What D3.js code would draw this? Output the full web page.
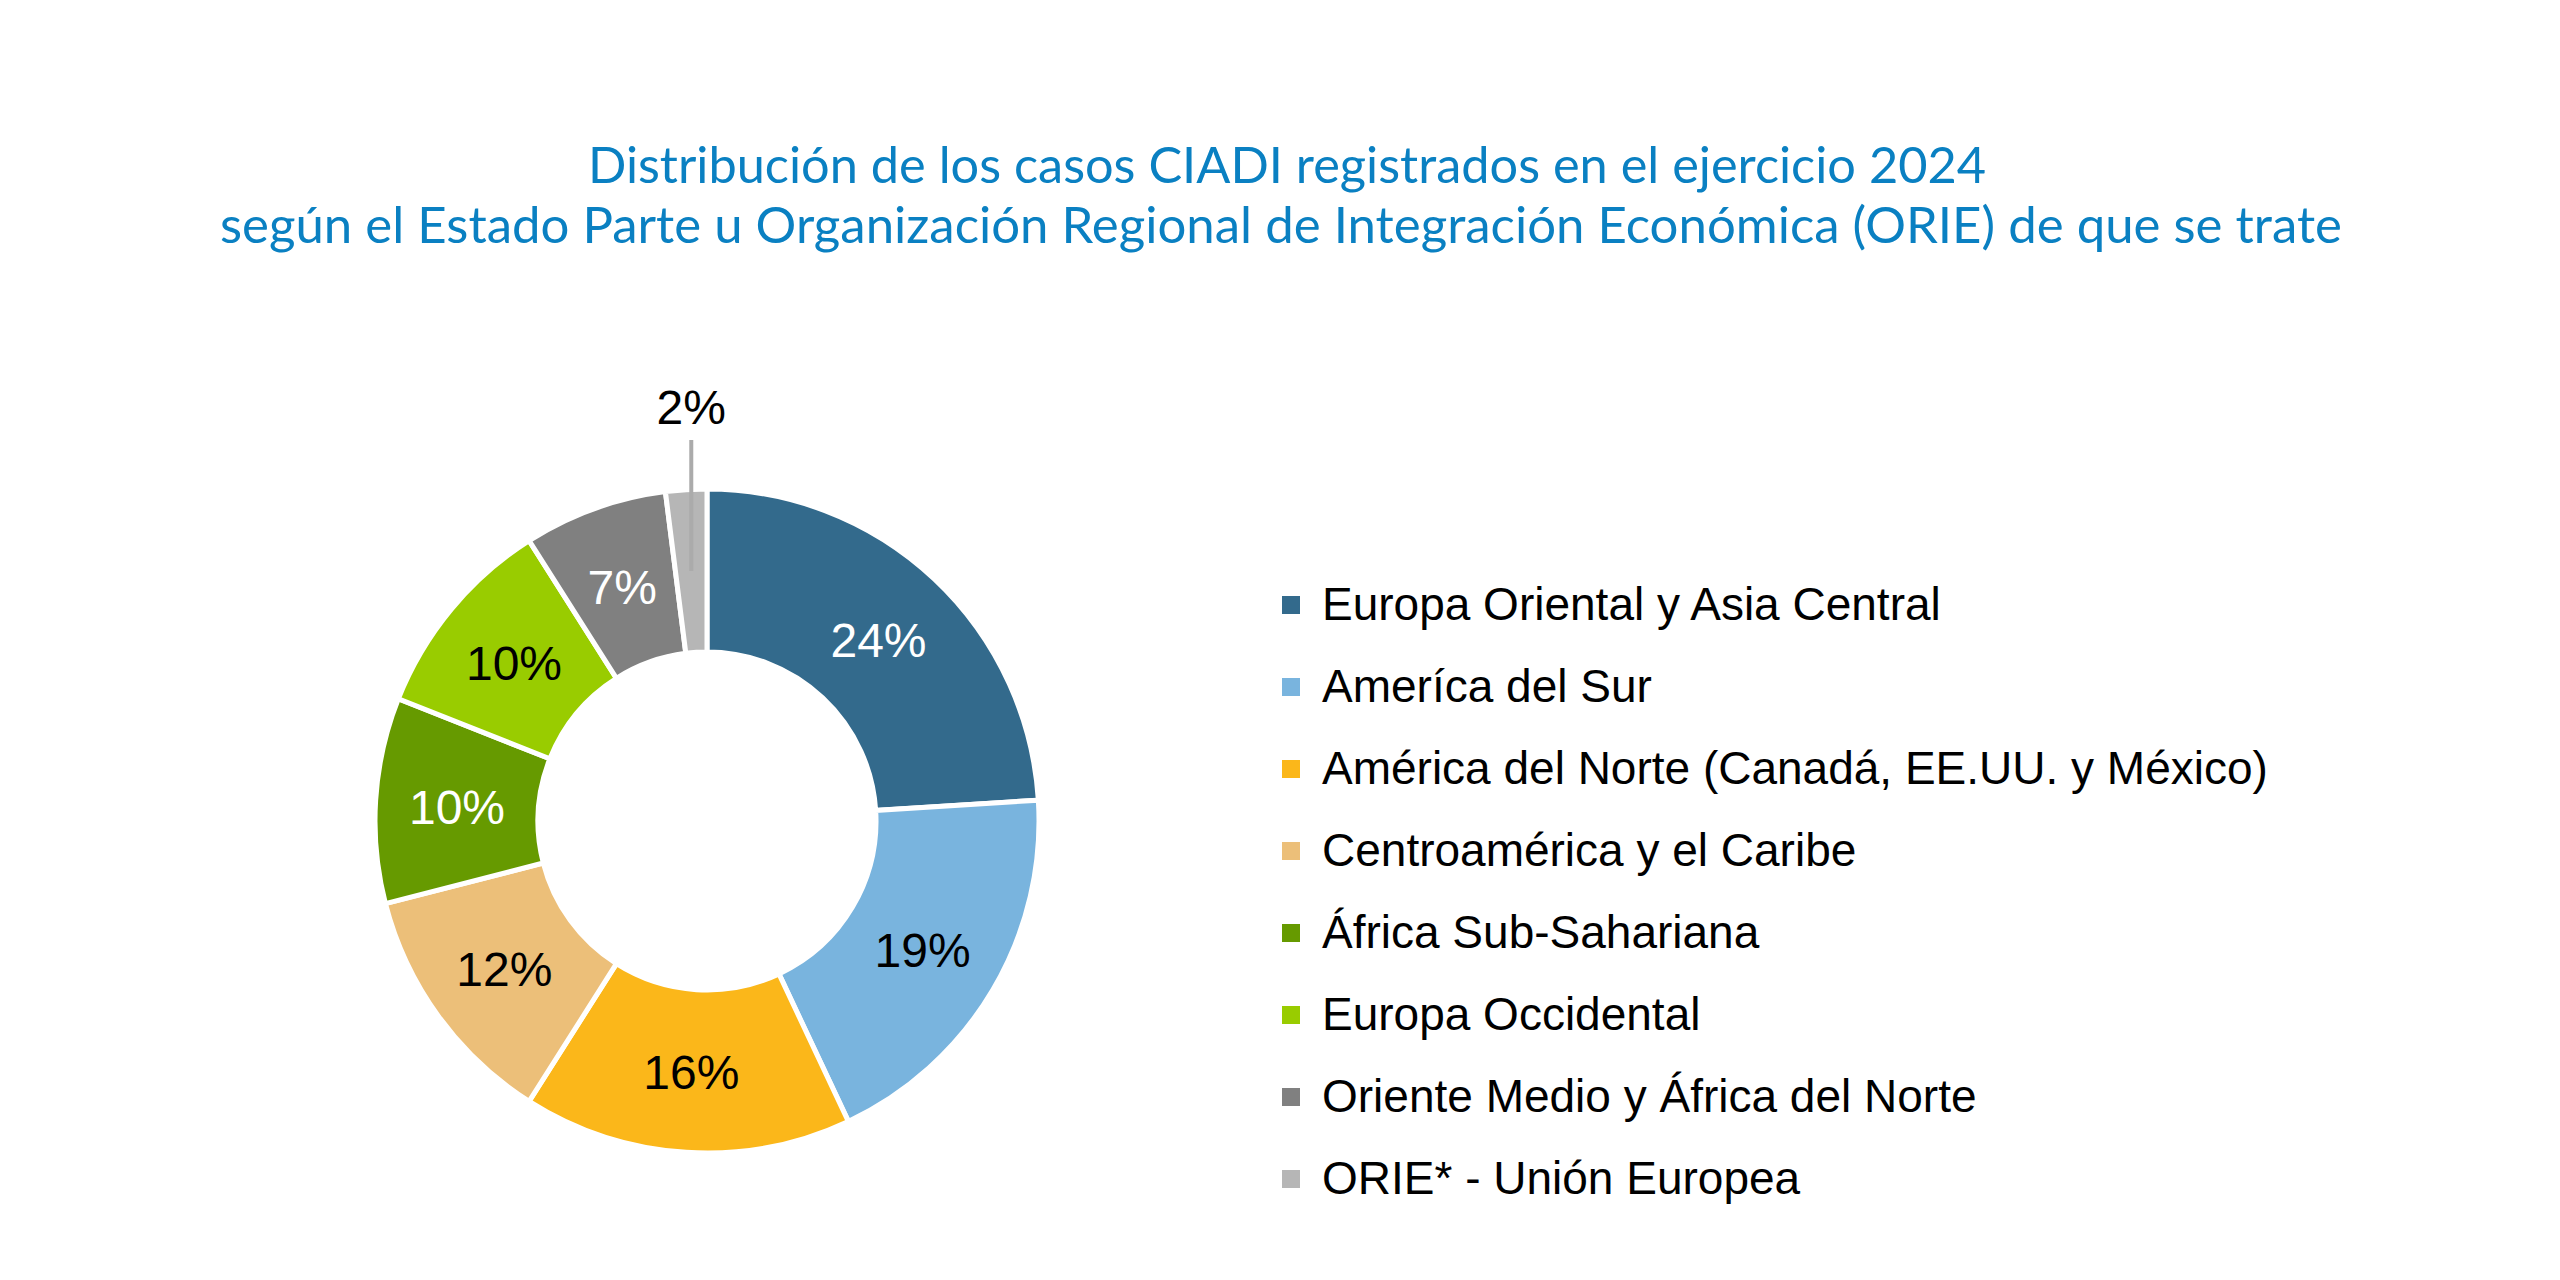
<!DOCTYPE html>
<html>
<head>
<meta charset="utf-8">
<script src="https://cdn.jsdelivr.net/npm/d3@7"></script>
<style>
  body { margin: 0; background: #ffffff; }
</style>
</head>
<body>
<div id="SVG_CONTAINER"></div>
<script>
// data
const regions = [
    "Europa Oriental y Asia Central",
    "Ameríca del Sur",
    "América del Norte (Canadá, EE.UU. y México)",
    "Centroamérica y el Caribe",
    "África Sub-Sahariana",
    "Europa Occidental",
    "Oriente Medio y África del Norte",
    "ORIE* - Unión Europea"
];
const shares = [24, 19, 16, 12, 10, 10, 7, 2];
const sliceColors = ["#336a8c", "#79b4de", "#fbb71a", "#ecbf79", "#669a00", "#99cc00", "#808080", "#b6b6b6"];
const labelColors = ["#ffffff", "#000000", "#000000", "#000000", "#ffffff", "#000000", "#ffffff", "#000000"];
const titleLines = [
    "Distribución de los casos CIADI registrados en el ejercicio 2024",
    "según el Estado Parte u Organización Regional de Integración Económica (ORIE) de que se trate"
];

const width = 2560,
    height = 1280;

const svg = d3.select("#SVG_CONTAINER")
    .append("svg")
    .attr("width", width)
    .attr("height", height);

// title, two centred lines
const titleY = [183, 243];
const titleW = [1398, 2122];
const titleX = [1287, 1281];
titleLines.forEach(function (t, i) {
    svg.append("text")
        .attr("x", titleX[i])
        .attr("y", titleY[i])
        .attr("text-anchor", "middle")
        .attr("textLength", titleW[i])
        .attr("lengthAdjust", "spacingAndGlyphs")
        .style("font-family", "Lato, 'Open Sans', sans-serif")
        .style("font-size", "50px")
        .style("fill", "#0a80c2")
        .text(t);
});

// donut
const cx = 707, cy = 821;
const outerR = 332, innerR = 169;

const pie = d3.pie().sort(null).value(d => d.v);
const arcs = pie(shares.map((v, i) => ({ v: v, i: i })));
const arc = d3.arc().innerRadius(innerR).outerRadius(outerR);

const g = svg.append("g")
    .attr("transform", "translate(" + cx + "," + cy + ")");

g.selectAll("path.slice")
    .data(arcs)
    .enter()
    .append("path")
    .attr("class", "slice")
    .attr("d", arc)
    .style("fill", d => sliceColors[d.data.i])
    .style("stroke", "#ffffff")
    .style("stroke-width", 5)
    .style("stroke-linejoin", "miter");

// labels inside slices, except the small last one
const labelFont = "'Liberation Sans', Arial, sans-serif";
arcs.forEach(function (d) {
    let c = arc.centroid(d);
    if (d.data.i === shares.length - 1) {
        // leader line up to the label above the ring
        g.append("line")
            .attr("x1", c[0])
            .attr("x2", c[0])
            .attr("y1", 440 - cy)
            .attr("y2", c[1])
            .style("stroke", "#ababab")
            .style("stroke-width", 4);
        g.append("text")
            .attr("x", c[0])
            .attr("y", 424 - cy)
            .attr("text-anchor", "middle")
            .style("font-family", labelFont)
            .style("font-size", "48px")
            .style("fill", labelColors[d.data.i])
            .text(d.data.v + "%");
        return;
    }
    g.append("text")
        .attr("x", c[0])
        .attr("y", c[1])
        .attr("dy", "0.38em")
        .attr("text-anchor", "middle")
        .style("font-family", labelFont)
        .style("font-size", "48px")
        .style("fill", labelColors[d.data.i])
        .text(d.data.v + "%");
});

// legend
const legX = 1282, legY = 620, legStep = 82;
regions.forEach(function (name, i) {
    let y = legY + i * legStep;
    svg.append("rect")
        .attr("x", legX)
        .attr("y", y - 24)
        .attr("width", 18)
        .attr("height", 18)
        .style("fill", sliceColors[i]);
    svg.append("text")
        .attr("x", legX + 40)
        .attr("y", y)
        .style("font-family", labelFont)
        .style("font-size", "46px")
        .style("fill", "#000000")
        .text(name);
});
</script>
</body>
</html>
